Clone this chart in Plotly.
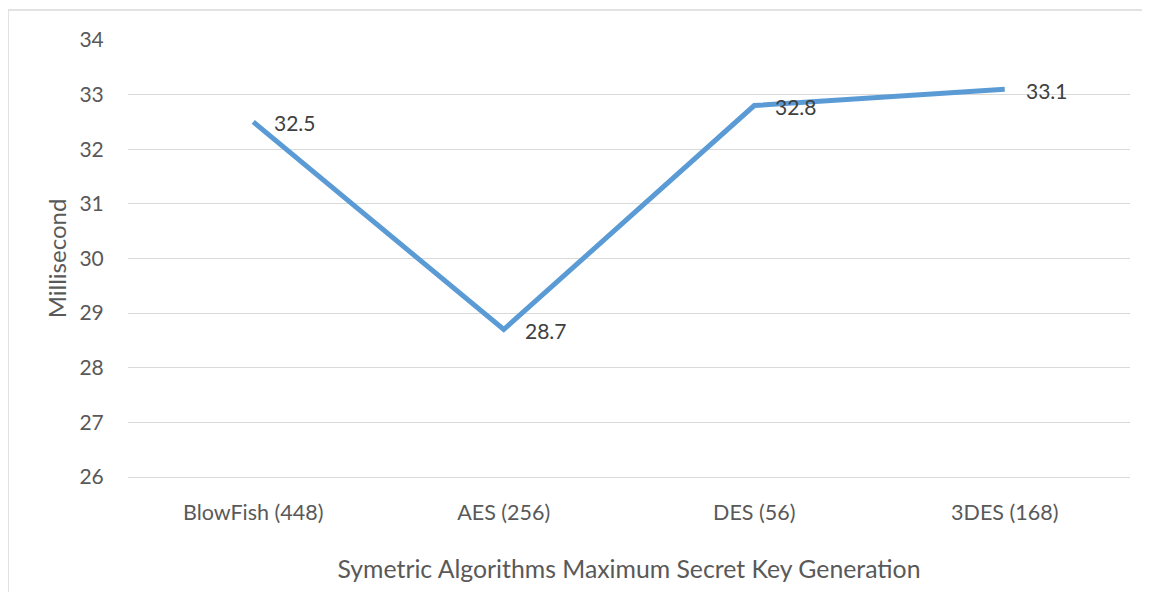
import plotly.graph_objects as go

categories = ["BlowFish (448)", "AES (256)", "DES (56)", "3DES (168)"]
values = [32.5, 28.7, 32.8, 33.1]
y_ticks = [26, 27, 28, 29, 30, 31, 32, 33, 34]

FONT = "Lato, 'Open Sans', 'DejaVu Sans', sans-serif"

fig = go.Figure()
fig.add_trace(go.Scatter(
    x=categories, y=values, mode="lines",
    line=dict(color="#5B9BD5", width=5),
    hoverinfo="skip", showlegend=False,
))

for c, v in zip(categories, values):
    fig.add_annotation(
        x=c, y=v, text=f"{v}", showarrow=False,
        xanchor="left", yanchor="middle", xshift=19, yshift=-1,
        font=dict(family=FONT, size=21, color="#404040"),
    )

fig.update_layout(
    width=1150, height=592,
    margin=dict(l=120, r=28, t=32, b=123, autoexpand=False),
    paper_bgcolor="white", plot_bgcolor="white",
    font=dict(family=FONT, color="#595959"),
    xaxis=dict(
        type="category", range=[-0.5, 3.5], showgrid=False, zeroline=False,
        showline=True, linecolor="#D9D9D9", linewidth=1,
        automargin=False,
        ticks="outside", ticklen=16, tickcolor="rgba(0,0,0,0)",
        tickfont=dict(size=21.5, color="#595959"),
        title=dict(text="Symetric Algorithms Maximum Secret Key Generation",
                   font=dict(size=24.8, color="#595959"), standoff=36),
    ),
    yaxis=dict(
        range=[26, 34], tickvals=y_ticks,
        showgrid=True, gridcolor="#D9D9D9", gridwidth=1,
        zeroline=False, showline=False, automargin=False,
        ticks="outside", ticklen=19, tickcolor="rgba(0,0,0,0)",
        tickfont=dict(size=21, color="#595959"),
        title=dict(text="Millisecond", font=dict(size=24, color="#595959"), standoff=6),
    ),
    shapes=[dict(
        type="rect", xref="paper", yref="paper",
        x0=(0 - 120) / 1002, x1=(1150 - 120) / 1002,
        y0=(469 - 600) / 437, y1=(469 - 2) / 437,
        line=dict(color="#D9D9D9", width=1.5), layer="below",
    )],
)

fig.write_html("out.html")
